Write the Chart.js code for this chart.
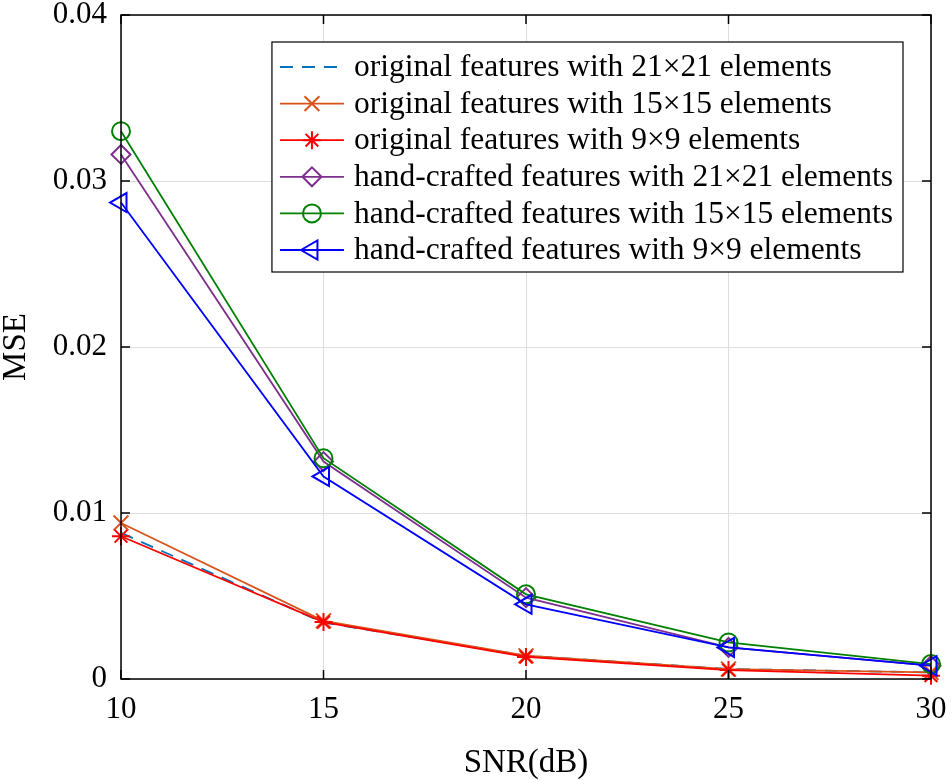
<!DOCTYPE html>
<html><head><meta charset="utf-8">
<script src="https://cdn.jsdelivr.net/npm/chart.js@4/dist/chart.umd.min.js"></script>
<style>html,body{margin:0;padding:0;background:#fff}#wrap{width:952px;height:780px;position:relative}</style>
</head><body><div id="wrap"><canvas id="c"></canvas></div>
<script>
const snr = [10, 15, 20, 25, 30];
const orig21 = [0.0088, 0.0034, 0.0014, 0.0006, 0.0004];
const orig15 = [0.0094, 0.0035, 0.0014, 0.0006, 0.0004];
const orig9 = [0.0086, 0.00343, 0.00133, 0.00054, 0.0002];
const hand21 = [0.0316, 0.0131, 0.0049, 0.0019, 0.0008];
const hand15 = [0.0330, 0.0133, 0.0051, 0.0022, 0.0009];
const hand9 = [0.0287, 0.0122, 0.0045, 0.0019, 0.0008];
const xTicks = [10, 15, 20, 25, 30];
const yTicks = [0, 0.01, 0.02, 0.03, 0.04];
const seriesLabels = [
  'original features with 21\u00d721 elements',
  'original features with 15\u00d715 elements',
  'original features with 9\u00d79 elements',
  'hand-crafted features with 21\u00d721 elements',
  'hand-crafted features with 15\u00d715 elements',
  'hand-crafted features with 9\u00d79 elements'
];
const seriesValues = [orig21, orig15, orig9, hand21, hand15, hand9];
const colors = ['#0072BD', '#D95319', '#FF0000', '#7E2F8E', '#008000', '#0000FF'];
const styles = [
  {pointStyle: false, radius: 0, rotation: 0, dash: [13, 9]},
  {pointStyle: 'crossRot', radius: 10.5, rotation: 0, dash: []},
  {pointStyle: 'star', radius: 9, rotation: 0, dash: []},
  {pointStyle: 'rectRot', radius: 9.5, rotation: 0, dash: []},
  {pointStyle: 'circle', radius: 9, rotation: 0, dash: []},
  {pointStyle: 'triangle', radius: 11, rotation: -90, dash: []}
];
const FONT = "'Liberation Serif', 'Times New Roman', serif";

const datasets = seriesValues.map((vals, i) => ({
  label: seriesLabels[i],
  data: vals.map((v, j) => ({x: snr[j], y: v})),
  borderColor: colors[i],
  backgroundColor: 'rgba(0,0,0,0)',
  borderWidth: 1.8,
  borderDash: styles[i].dash,
  pointStyle: styles[i].pointStyle,
  pointRadius: styles[i].radius,
  pointHoverRadius: styles[i].radius,
  pointRotation: styles[i].rotation,
  pointBorderColor: colors[i],
  pointBackgroundColor: 'rgba(0,0,0,0)',
  pointBorderWidth: 2,
  tension: 0,
  clip: false,
  order: 6 - i
}));

const frameAndTicks = {
  id: 'frameAndTicks',
  afterDatasetsDraw(chart) {
    const {ctx, chartArea: a, scales} = chart;
    ctx.save();
    ctx.strokeStyle = '#000';
    ctx.lineWidth = 1.5;
    ctx.strokeRect(a.left, a.top, a.right - a.left, a.bottom - a.top);
    const tl = 9;
    ctx.beginPath();
    scales.x.ticks.forEach(t => {
      const px = scales.x.getPixelForValue(t.value);
      ctx.moveTo(px, a.bottom); ctx.lineTo(px, a.bottom - tl);
      ctx.moveTo(px, a.top); ctx.lineTo(px, a.top + tl);
    });
    scales.y.ticks.forEach(t => {
      const py = scales.y.getPixelForValue(t.value);
      ctx.moveTo(a.left, py); ctx.lineTo(a.left + tl, py);
      ctx.moveTo(a.right, py); ctx.lineTo(a.right - tl, py);
    });
    ctx.stroke();
    ctx.restore();
  }
};

const boxLegend = {
  id: 'boxLegend',
  afterDraw(chart) {
    const {ctx, chartArea: a} = chart;
    const fontSize = 31.5;
    ctx.save();
    ctx.font = fontSize + 'px ' + FONT;
    const padL = 8, sampleLen = 64, gap = 10, padR = 10, padT = 25, rowH = 36.6, padB = 22;
    const ds = chart.data.datasets;
    let maxW = 0;
    ds.forEach(d => { maxW = Math.max(maxW, ctx.measureText(d.label).width); });
    const w = padL + sampleLen + gap + maxW + padR;
    const h = padT + rowH * (ds.length - 1) + padB;
    const right = a.right - 28;
    const left = right - w;
    const top = a.top + 27;
    ctx.fillStyle = '#fff';
    ctx.fillRect(left, top, w, h);
    ctx.strokeStyle = '#000';
    ctx.lineWidth = 1.2;
    ctx.strokeRect(left, top, w, h);
    ds.forEach((d, i) => {
      const y = top + padT + rowH * i;
      const x0 = left + padL, x1 = x0 + sampleLen;
      ctx.save();
      ctx.strokeStyle = d.borderColor;
      ctx.lineWidth = d.borderWidth;
      ctx.setLineDash(d.borderDash || []);
      ctx.beginPath(); ctx.moveTo(x0, y); ctx.lineTo(x1, y); ctx.stroke();
      ctx.setLineDash([]);
      if (d.pointStyle) {
        ctx.strokeStyle = d.pointBorderColor;
        ctx.fillStyle = 'rgba(0,0,0,0)';
        ctx.lineWidth = d.pointBorderWidth;
        Chart.helpers.drawPoint(ctx, {pointStyle: d.pointStyle, radius: d.pointRadius, rotation: d.pointRotation, borderWidth: d.pointBorderWidth}, (x0 + x1) / 2, y);
      }
      ctx.restore();
      ctx.fillStyle = '#000';
      ctx.textBaseline = 'middle';
      ctx.textAlign = 'left';
      ctx.fillText(d.label, x1 + gap, y + 1);
    });
    ctx.restore();
  }
};

new Chart(document.getElementById('c'), {
  type: 'line',
  data: {datasets},
  options: {
    responsive: true,
    maintainAspectRatio: false,
    animation: false,
    devicePixelRatio: 1,
    layout: {padding: {left: 0, top: 15, right: 21, bottom: 0}},
    plugins: {legend: {display: false}, tooltip: {enabled: false}},
    scales: {
      x: {
        type: 'linear', min: 10, max: 30,
        afterBuildTicks(s) { s.ticks = xTicks.map(v => ({value: v})); },
        afterFit(s) { s.height = 101; s.paddingLeft = 0; s.paddingRight = 0; },
        grid: {color: '#dedede', lineWidth: 1, drawTicks: false},
        border: {display: false},
        ticks: {color: '#000', font: {family: FONT, size: 31}, padding: 12, maxRotation: 0},
        title: {display: true, text: 'SNR(dB)', color: '#000', font: {family: FONT, size: 33, lineHeight: 1}, padding: {top: 0, bottom: 0}}
      },
      y: {
        type: 'linear', min: 0, max: 0.04,
        afterBuildTicks(s) { s.ticks = yTicks.map(v => ({value: v})); },
        afterFit(s) { s.width = 121; s.paddingTop = 0; s.paddingBottom = 0; },
        grid: {color: '#dedede', lineWidth: 1, drawTicks: false},
        border: {display: false},
        ticks: {color: '#000', font: {family: FONT, size: 31}, padding: 14,
          callback: v => (v === 0 ? '0' : String(Math.round(v * 100) / 100))},
        title: {display: true, text: 'MSE', color: '#000', font: {family: FONT, size: 33, lineHeight: 1}, padding: {top: 0, bottom: 0}}
      }
    }
  },
  plugins: [frameAndTicks, boxLegend]
});
</script></body></html>
